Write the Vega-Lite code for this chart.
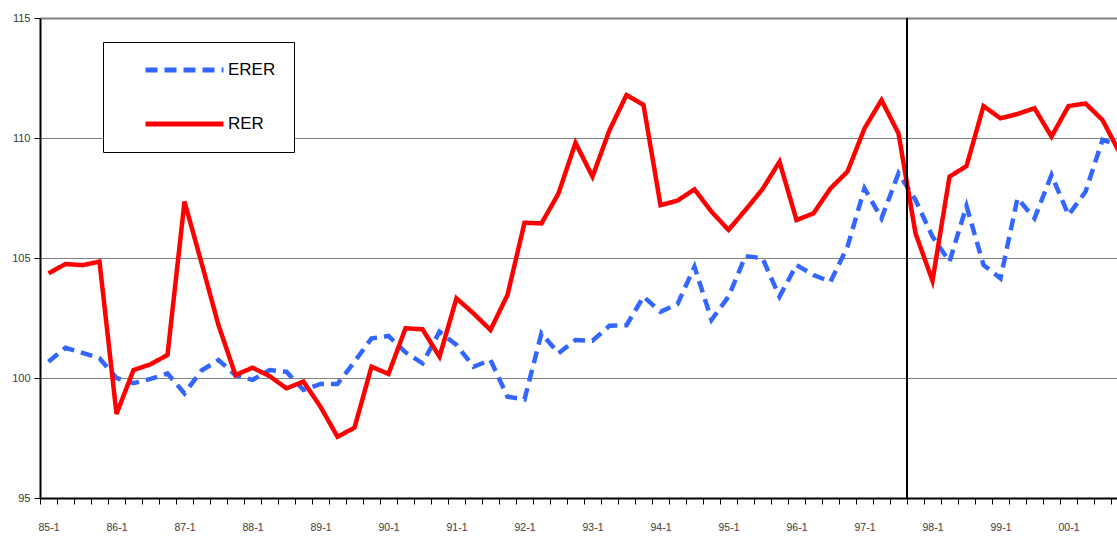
{
  "$schema": "https://vega.github.io/schema/vega-lite/v6.json",
  "width": 1077,
  "height": 480,
  "autosize": {"type": "none"},
  "padding": {"left": 40, "top": 18, "right": 0, "bottom": 38},
  "background": "white",
  "config": {"view": {"stroke": null}, "font": "Liberation Sans"},
  "data": {
    "values": [
      {"q": "85-1", "ERER": 100.68, "RER": 104.36},
      {"q": "85-2", "ERER": 101.26, "RER": 104.75},
      {"q": "85-3", "ERER": 101.05, "RER": 104.70},
      {"q": "85-4", "ERER": 100.82, "RER": 104.85},
      {"q": "86-1", "ERER": 100.00, "RER": 98.50},
      {"q": "86-2", "ERER": 99.78, "RER": 100.33},
      {"q": "86-3", "ERER": 99.96, "RER": 100.57},
      {"q": "86-4", "ERER": 100.19, "RER": 100.96},
      {"q": "87-1", "ERER": 99.36, "RER": 107.35},
      {"q": "87-2", "ERER": 100.31, "RER": 104.80},
      {"q": "87-3", "ERER": 100.75, "RER": 102.20},
      {"q": "87-4", "ERER": 100.12, "RER": 100.12},
      {"q": "88-1", "ERER": 99.92, "RER": 100.43},
      {"q": "88-2", "ERER": 100.33, "RER": 100.08},
      {"q": "88-3", "ERER": 100.26, "RER": 99.57},
      {"q": "88-4", "ERER": 99.50, "RER": 99.85},
      {"q": "89-1", "ERER": 99.75, "RER": 98.80},
      {"q": "89-2", "ERER": 99.75, "RER": 97.55},
      {"q": "89-3", "ERER": 100.68, "RER": 97.93},
      {"q": "89-4", "ERER": 101.65, "RER": 100.47},
      {"q": "90-1", "ERER": 101.75, "RER": 100.17},
      {"q": "90-2", "ERER": 101.07, "RER": 102.07},
      {"q": "90-3", "ERER": 100.61, "RER": 102.03},
      {"q": "90-4", "ERER": 101.93, "RER": 100.89},
      {"q": "91-1", "ERER": 101.38, "RER": 103.32},
      {"q": "91-2", "ERER": 100.47, "RER": 102.69},
      {"q": "91-3", "ERER": 100.75, "RER": 102.00},
      {"q": "91-4", "ERER": 99.22, "RER": 103.46},
      {"q": "92-1", "ERER": 99.11, "RER": 106.47},
      {"q": "92-2", "ERER": 101.86, "RER": 106.44},
      {"q": "92-3", "ERER": 101.03, "RER": 107.69},
      {"q": "92-4", "ERER": 101.58, "RER": 109.80},
      {"q": "93-1", "ERER": 101.55, "RER": 108.39},
      {"q": "93-2", "ERER": 102.18, "RER": 110.33},
      {"q": "93-3", "ERER": 102.20, "RER": 111.79},
      {"q": "93-4", "ERER": 103.39, "RER": 111.38},
      {"q": "94-1", "ERER": 102.76, "RER": 107.20},
      {"q": "94-2", "ERER": 103.08, "RER": 107.39},
      {"q": "94-3", "ERER": 104.64, "RER": 107.86},
      {"q": "94-4", "ERER": 102.42, "RER": 106.93},
      {"q": "95-1", "ERER": 103.39, "RER": 106.17},
      {"q": "95-2", "ERER": 105.08, "RER": 107.00},
      {"q": "95-3", "ERER": 104.99, "RER": 107.87},
      {"q": "95-4", "ERER": 103.39, "RER": 109.01},
      {"q": "96-1", "ERER": 104.71, "RER": 106.58},
      {"q": "96-2", "ERER": 104.29, "RER": 106.86},
      {"q": "96-3", "ERER": 104.01, "RER": 107.90},
      {"q": "96-4", "ERER": 105.47, "RER": 108.60},
      {"q": "97-1", "ERER": 107.90, "RER": 110.40},
      {"q": "97-2", "ERER": 106.65, "RER": 111.58},
      {"q": "97-3", "ERER": 108.53, "RER": 110.19},
      {"q": "97-4", "ERER": 107.42, "RER": 106.03},
      {"q": "98-1", "ERER": 105.89, "RER": 104.05},
      {"q": "98-2", "ERER": 104.85, "RER": 108.39},
      {"q": "98-3", "ERER": 107.17, "RER": 108.83},
      {"q": "98-4", "ERER": 104.71, "RER": 111.33},
      {"q": "99-1", "ERER": 104.15, "RER": 110.82},
      {"q": "99-2", "ERER": 107.49, "RER": 111.00},
      {"q": "99-3", "ERER": 106.65, "RER": 111.24},
      {"q": "99-4", "ERER": 108.46, "RER": 110.06},
      {"q": "00-1", "ERER": 106.79, "RER": 111.33},
      {"q": "00-2", "ERER": 107.76, "RER": 111.44},
      {"q": "00-3", "ERER": 109.92, "RER": 110.75},
      {"q": "00-4", "ERER": 109.70, "RER": 109.40}
    ]
  },
  "layer": [
    {
      "transform": [{"fold": ["ERER", "RER"], "as": ["series", "value"]}],
      "mark": {"type": "line", "strokeWidth": 4.5, "clip": true},
      "encoding": {
        "x": {
          "field": "q",
          "type": "ordinal",
          "sort": null,
          "scale": {"type": "band", "paddingInner": 0, "paddingOuter": 0, "range": [0, 1088]},
          "axis": {
            "title": null,
            "tickBand": "extent",
            "labelExpr": "indexof(datum.label, '-1') > 0 ? datum.label : ''",
            "labelOverlap": false,
            "labelAngle": 0,
            "labelBaseline": "top",
            "domainColor": "black",
            "domainWidth": 2,
            "tickColor": "black",
            "tickSize": 6,
            "tickWidth": 1,
            "labelPadding": 18,
            "labelFontSize": 10.5,
            "labelColor": "#3a3a3a",
            "grid": false
          }
        },
        "y": {
          "field": "value",
          "type": "quantitative",
          "scale": {"domain": [95, 115], "nice": false, "zero": false},
          "axis": {
            "title": null,
            "values": [95, 100, 105, 110, 115],
            "grid": true,
            "gridColor": "#808080",
            "gridWidth": {"condition": {"test": "datum.value === 115", "value": 2}, "value": 1},
            "domainColor": "black",
            "domainWidth": 2,
            "tickColor": "black",
            "tickSize": 6,
            "labelPadding": 4,
            "labelFontSize": 11,
            "labelColor": "#3a3a3a"
          }
        },
        "color": {
          "field": "series",
          "type": "nominal",
          "scale": {"domain": ["ERER", "RER"], "range": ["#3366FF", "#FF0000"]},
          "legend": {
            "title": null,
            "orient": "none",
            "legendX": 63,
            "legendY": 24,
            "padding": 18,
            "strokeColor": "black",
            "fillColor": "white",
            "symbolType": "stroke",
            "symbolSize": 6084,
            "symbolStrokeWidth": 5,
            "symbolOffset": 22,
            "labelOffset": 2,
            "labelFontSize": 17,
            "labelColor": "black",
            "clipHeight": 20,
            "rowPadding": 34
          }
        },
        "strokeDash": {
          "field": "series",
          "type": "nominal",
          "scale": {"domain": ["ERER", "RER"], "range": [[12, 7], [1, 0]]}
        }
      }
    },
    {
      "transform": [{"filter": "datum.q === '97-4'"}],
      "mark": {"type": "rule", "color": "black", "strokeWidth": 2},
      "encoding": {
        "x": {"field": "q", "type": "ordinal", "sort": null, "bandPosition": 0}
      }
    }
  ]
}
